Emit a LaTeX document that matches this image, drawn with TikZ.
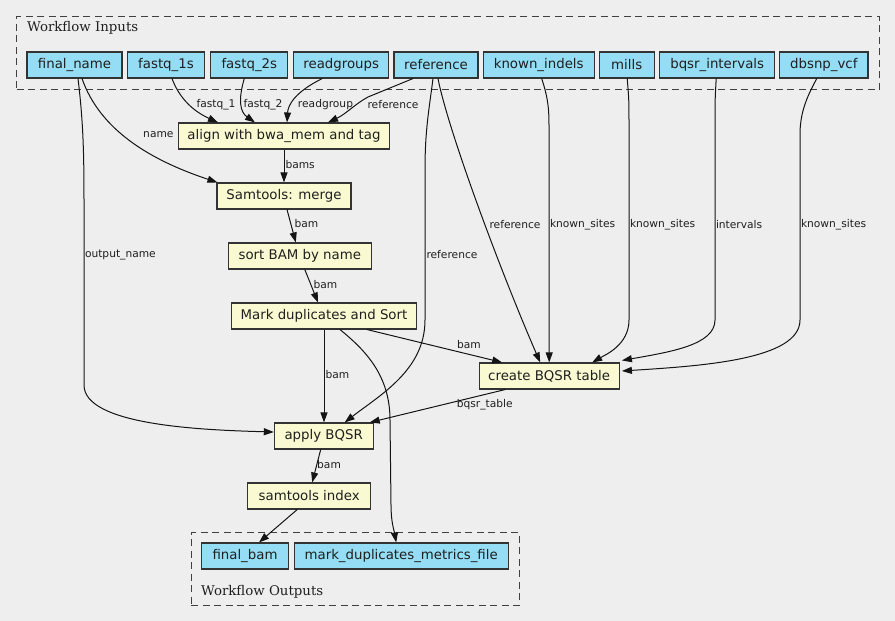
\documentclass[tikz,border=0pt]{standalone}
\usepackage{fontspec}
\setmainfont{DejaVu Sans}
\newfontfamily\clusterfont{DejaVu Serif}
\usetikzlibrary{arrows.meta}
\definecolor{bg}{HTML}{EEEEEE}
\definecolor{inblue}{HTML}{94DDF4}
\definecolor{stepyel}{HTML}{FAFAD2}
\definecolor{bordergray}{HTML}{333333}
\begin{document}
\begin{tikzpicture}[x=1pt,y=-1pt,
  box/.style={draw=bordergray, line width=1.1pt, inner sep=0pt, minimum height=26pt,
    font=\fontsize{13.33}{16}\selectfont, text=black!88},
  inp/.style={box, fill=inblue},
  stepbox/.style={box, fill=stepyel},
  conn/.style={draw=black!92, line width=1pt, -{Triangle[length=10pt,width=7pt]}},
  lbl/.style={font=\fontsize{10.67}{12}\selectfont, inner sep=0pt, text=black!88},
  cluster/.style={draw=black!75, dash pattern=on 7pt off 4.5pt, line width=1.3pt, inner sep=0pt, anchor=north west},
  clbl/.style={font=\clusterfont\fontsize{13.33}{16}\selectfont, inner sep=0pt, anchor=base west, text=black!88}]
\fill[bg] (0,0) rectangle (895,621);
\useasboundingbox (0,0) rectangle (895,621);

% clusters
\node[cluster, minimum width=862.7pt, minimum height=73pt] (inbox) at (16,16) {};
\node[clbl] (inlbl) at (27,31.7) {Workflow Inputs};
\node[cluster, minimum width=328pt, minimum height=73.3pt] (outbox) at (190.7,531.7) {};
\node[clbl] (outlbl) at (201,595.7) {Workflow Outputs};

% inputs
\node[inp, minimum width=95pt] (fname) at (74.5,65) {final\_name};
\node[inp, minimum width=77pt] (fq1) at (166,65) {fastq\_1s};
\node[inp, minimum width=77pt] (fq2) at (249.3,65) {fastq\_2s};
\node[inp, minimum width=95pt] (rg) at (341.2,65) {readgroups};
\node[inp, minimum width=84pt] (ref) at (436,65) {reference};
\node[inp, minimum width=110.7pt] (ki) at (538.7,65) {known\_indels};
\node[inp, minimum width=54.7pt] (mills) at (626.7,65) {mills};
\node[inp, minimum width=115pt] (bi) at (717.2,65) {bqsr\_intervals};
\node[inp, minimum width=88.3pt] (dbsnp) at (823.8,65) {dbsnp\_vcf};

% steps
\node[stepbox, minimum width=210.7pt] (align) at (284,136) {align with bwa\_mem and tag};
\node[stepbox, minimum width=134pt] (merge) at (284,196) {Samtools: merge};
\node[stepbox, minimum width=143pt] (sort) at (299.8,256) {sort BAM by name};
\node[stepbox, minimum width=184.7pt] (mark) at (324,316) {Mark duplicates and Sort};
\node[stepbox, minimum width=140.3pt] (create) at (549.2,376) {create BQSR table};
\node[stepbox, minimum width=98.7pt] (apply) at (323.7,436) {apply BQSR};
\node[stepbox, minimum width=123pt] (index) at (309.2,496) {samtools index};

% outputs
\node[inp, minimum width=86.7pt] (fbam) at (245,556) {final\_bam};
\node[inp, minimum width=213.7pt] (metrics) at (401.2,556) {mark\_duplicates\_metrics\_file};

% edges from inputs
\draw[conn] ([xshift=7.5pt]fname.south) .. controls (100,130) and (150,160) .. ([xshift=1pt]merge.north west)
  node[lbl, anchor=east] (l1) at (174,135) {name};
\draw[conn] ([xshift=3.5pt]fname.south) .. controls (83,120) and (84,150) .. (84,200) -- (84,385)
  .. controls (84,425) and (200,430) .. ([yshift=4pt]apply.west)
  node[lbl, anchor=west] (l2) at (84.5,255) {output\_name};
\draw[conn] ([xshift=6pt]fq1.south) .. controls (180,100) and (195,112) .. ([xshift=-66pt]align.north)
  node[lbl] (l3) at (216,105) {fastq\_1};
\draw[conn] ([xshift=-5pt]fq2.south) .. controls (238,100) and (240,112) .. ([xshift=-29pt]align.north)
  node[lbl] (l4) at (263,105) {fastq\_2};
\draw[conn] ([xshift=-19pt]rg.south) .. controls (295,92) and (288,105) .. ([xshift=3pt]align.north)
  node[lbl] (l5) at (325.5,105) {readgroup};
\draw[conn] ([xshift=-23pt]ref.south) -- (368,97) .. controls (355,104) and (346,114) .. ([xshift=44pt]align.north)
  node[lbl] (l6) at (393,105) {reference};
\draw[conn] ([xshift=-3pt]ref.south) .. controls (429,110) and (425,130) .. (425,170) -- (425,320)
  .. controls (425,370) and (380,395) .. ([xshift=21pt]apply.north)
  node[lbl, anchor=west] (l7) at (426,255) {reference};
\draw[conn] ([xshift=2pt]ref.south) .. controls (448,130) and (500,270) .. ([xshift=-9pt]create.north)
  node[lbl] (l8) at (515,225) {reference};
\draw[conn] ([xshift=3pt]ki.south) .. controls (547,95) and (549,105) .. (549,125) -- (create.north)
  node[lbl, anchor=west] (l9) at (549.5,225) {known\_sites};
\draw[conn] ([xshift=0.5pt]mills.south) .. controls (629,100) .. (629,130) -- (629,320)
  .. controls (629,345) and (605,355) .. ([xshift=43pt]create.north)
  node[lbl, anchor=west] (l10) at (629.5,225) {known\_sites};
\draw[conn] ([xshift=-1pt]bi.south) .. controls (715,100) .. (715,130) -- (715,320)
  .. controls (715,345) and (670,352) .. ([shift={(2pt,2pt)}]create.north east)
  node[lbl, anchor=west] (l11) at (715.5,225) {intervals};
\draw[conn] ([xshift=-7pt]dbsnp.south) .. controls (805,100) and (800,115) .. (800,135) -- (800,320)
  .. controls (800,360) and (700,366) .. ([shift={(2pt,5pt)}]create.east)
  node[lbl, anchor=west] (l12) at (800.5,225) {known\_sites};

% main chain
\draw[conn] (align.south) -- (merge.north)
  node[lbl, anchor=west] (l13) at (285,165) {bams};
\draw[conn] ([xshift=3pt]merge.south) -- ([xshift=-4pt]sort.north)
  node[lbl, anchor=west] (l14) at (294,224) {bam};
\draw[conn] ([xshift=5pt]sort.south) -- ([xshift=-6pt]mark.north)
  node[lbl, anchor=west] (l15) at (313,285) {bam};
\draw[conn] (mark.south) -- ([xshift=0.3pt]apply.north)
  node[lbl, anchor=west] (l16) at (325,375) {bam};
\draw[conn] ([xshift=43pt]mark.south) -- ([xshift=-47pt]create.north)
  node[lbl] (l17) at (469,345) {bam};
\draw[conn] ([xshift=16pt]mark.south) .. controls (365,350) and (390,375) .. (390,420) -- (391,505)
  .. controls (391,522) and (394,530) .. ([xshift=-5pt]metrics.north);
\draw[conn] ([xshift=-44pt]create.south) -- ([xshift=46pt]apply.north)
  node[lbl] (l19) at (484.7,405) {bqsr\_table};
\draw[conn] ([xshift=-3pt]apply.south) -- ([xshift=3pt]index.north)
  node[lbl, anchor=west] (l20) at (316.7,465) {bam};
\draw[conn] ([xshift=-12pt]index.south) -- ([xshift=14pt]fbam.north);
\end{tikzpicture}
\end{document}
